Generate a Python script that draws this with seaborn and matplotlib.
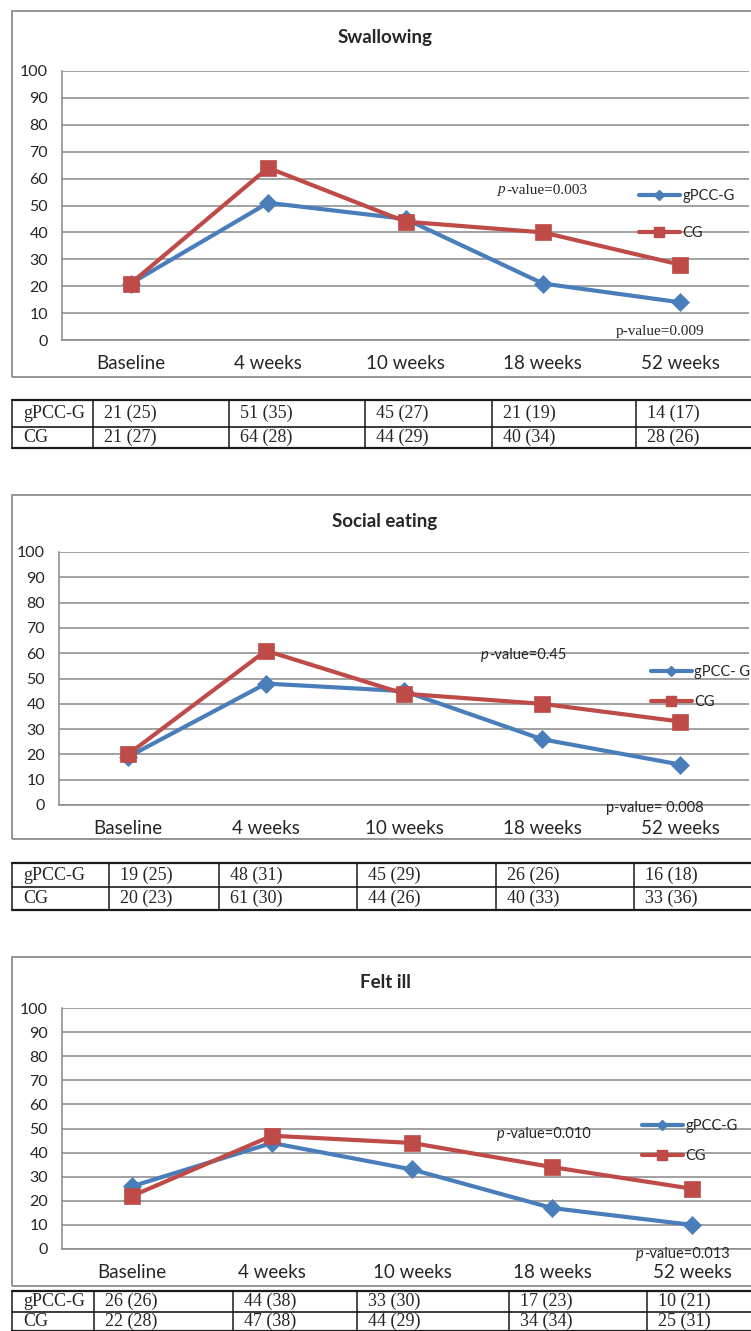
import matplotlib
matplotlib.use("Agg")
import matplotlib.pyplot as plt
import pandas as pd
import seaborn as sns
from matplotlib.patches import Rectangle
from matplotlib.lines import Line2D

# ---- data: mean (SD) per time point ----
timepoints = ["Baseline", "4 weeks", "10 weeks", "18 weeks", "52 weeks"]
group_names = ["gPCC-G", "CG"]

swallowing_gpcc_mean = [21, 51, 45, 21, 14]
swallowing_gpcc_sd = [25, 35, 27, 19, 17]
swallowing_cg_mean = [21, 64, 44, 40, 28]
swallowing_cg_sd = [27, 28, 29, 34, 26]

social_gpcc_mean = [19, 48, 45, 26, 16]
social_gpcc_sd = [25, 31, 29, 26, 18]
social_cg_mean = [20, 61, 44, 40, 33]
social_cg_sd = [23, 30, 26, 33, 36]

ill_gpcc_mean = [26, 44, 33, 17, 10]
ill_gpcc_sd = [26, 38, 30, 23, 21]
ill_cg_mean = [22, 47, 44, 34, 25]
ill_cg_sd = [28, 38, 29, 34, 31]

titles = ["Swallowing", "Social eating", "Felt ill"]
legend_labels = [["gPCC-G", "CG"], ["gPCC- G", "CG"], ["gPCC-G", "CG"]]
pvalue_upper = ["0.003", "0.45", "0.010"]
pvalue_lower = ["0.009", " 0.008", "0.013"]

# ---- styling ----
sns.set_style("white")
SANS = ["Lato", "Liberation Sans", "DejaVu Sans"]
SERIF = ["Liberation Serif", "DejaVu Serif"]
plt.rcParams["font.family"] = SANS
BLUE = "#4A7EBB"
RED = "#BE4B48"
GRID = "#878787"
colors = {"gPCC-G": BLUE, "CG": RED}

W, H = 751, 1331
fig = plt.figure(figsize=(W / 100, H / 100), dpi=100)


def fx(x):
    return x / W


def fy(y):
    return 1 - y / H


# per-panel layout in pixels
layouts = [
    dict(box=(12, 11, 377), axes=(62, 71, 749, 340), title_y=37,
         leg=(639, 196, 233), legsp=1.55, pa=(506, 190, True),
         pb=(616, 332, False), pfont=SERIF, psize=11, table=(400, 427, 448),
         cols=[12, 93, 229, 365, 492, 636]),
    dict(box=(12, 495, 839), axes=(59, 552, 749, 805), title_y=522,
         leg=(651, 672, 702), legsp=1.1, pa=(489, 655, True),
         pb=(606, 808, False), pfont=SANS, psize=10.5, table=(863, 887, 910),
         cols=[12, 109, 219, 357, 496, 634]),
    dict(box=(12, 957, 1286), axes=(62, 1008, 762, 1249), title_y=983,
         leg=(642, 1126, 1156), legsp=1.1, pa=(505, 1134, True),
         pb=(644, 1254, True), pfont=SANS, psize=10.5, table=(1291, 1312, 1331),
         cols=[12, 94, 233, 357, 509, 647]),
]

panels = [
    (swallowing_gpcc_mean, swallowing_gpcc_sd, swallowing_cg_mean, swallowing_cg_sd),
    (social_gpcc_mean, social_gpcc_sd, social_cg_mean, social_cg_sd),
    (ill_gpcc_mean, ill_gpcc_sd, ill_cg_mean, ill_cg_sd),
]


def ptext(x, y, value, italic_p, family, size):
    if italic_p:
        fig.text(fx(x), fy(y), "p", ha="right", va="center", style="italic",
                 family=family, fontsize=size)
        fig.text(fx(x), fy(y), "-value=" + value, ha="left", va="center",
                 family=family, fontsize=size)
    else:
        fig.text(fx(x), fy(y), "p-value=" + value, ha="left", va="center",
                 family=family, fontsize=size)


for i, (lay, (gm, gs, cm, cs)) in enumerate(zip(layouts, panels)):
    # outer chart frame
    bx, btop, bbot = lay["box"]
    fig.add_artist(Rectangle((fx(bx), fy(bbot)), 1.2, (bbot - btop) / H,
                             transform=fig.transFigure, fill=False,
                             edgecolor="#8C8C8C", lw=1.3))
    fig.text(fx(385), fy(lay["title_y"]), titles[i], ha="center", va="center",
             fontsize=13.5, fontweight="bold")

    l, t, r, b = lay["axes"]
    ax = fig.add_axes([fx(l), fy(b), (r - l) / W, (b - t) / H])
    ax.patch.set_alpha(0)

    df = pd.DataFrame({
        "pos": list(range(len(timepoints))) * 2,
        "score": gm + cm,
        "group": [group_names[0]] * len(gm) + [group_names[1]] * len(cm),
    })
    styles = {"gPCC-G": ("D", 9.5), "CG": ("s", 11.5)}
    for g in group_names:
        mk, ms = styles[g]
        sns.lineplot(data=df[df["group"] == g], x="pos", y="score",
                     color=colors[g], marker=mk, markersize=ms,
                     markeredgecolor=colors[g], markeredgewidth=0.5,
                     linewidth=3, errorbar=None, legend=False, ax=ax,
                     clip_on=False)

    ax.set_xlim(-0.5, len(timepoints) - 0.5)
    ax.set_ylim(0, 100)
    ax.set_yticks(range(0, 101, 10))
    ax.set_xticks(range(len(timepoints)))
    ax.set_xticklabels(timepoints)
    ax.set_xlabel("")
    ax.set_ylabel("")
    ax.yaxis.grid(True, color=GRID, lw=1.1)
    ax.set_axisbelow(True)
    for s in ["top", "right"]:
        ax.spines[s].set_visible(False)
    for s in ["left", "bottom"]:
        ax.spines[s].set_color(GRID)
        ax.spines[s].set_linewidth(1.1)
    ax.tick_params(axis="x", length=0, pad=11, labelsize=13.5)
    ax.tick_params(axis="y", length=4, width=1.1, color=GRID, pad=6,
                   labelsize=11.5)

    # legend
    lx, ly1, ly2 = lay["leg"]
    handles = [Line2D([], [], color=BLUE, lw=3, marker="D", ms=5),
               Line2D([], [], color=RED, lw=3, marker="s", ms=7)]
    ax.legend(handles, legend_labels[i], loc="center left",
              bbox_to_anchor=(fx(lx), fy((ly1 + ly2) / 2)),
              bbox_transform=fig.transFigure, frameon=False, fontsize=10.5,
              handlelength=2.8, handletextpad=0.15, labelspacing=lay["legsp"],
              borderpad=0, borderaxespad=0)

    # p-value annotations
    pax, pay, pai = lay["pa"]
    ptext(pax, pay, pvalue_upper[i], pai, lay["pfont"], lay["psize"])
    pbx, pby, pbi = lay["pb"]
    ptext(pbx, pby, pvalue_lower[i], pbi, lay["pfont"], lay["psize"])

    # summary table beneath the chart
    yt, ym, yb = lay["table"]
    cols = lay["cols"]
    for yy, lw in [(yt, 1.6), (ym, 1.2), (yb, 1.6)]:
        fig.add_artist(Line2D([fx(cols[0]), 1.2], [fy(yy), fy(yy)],
                              transform=fig.transFigure, color="#1A1A1A", lw=lw))
    for xx in cols:
        fig.add_artist(Line2D([fx(xx), fx(xx)], [fy(yt), fy(yb)],
                              transform=fig.transFigure, color="#1A1A1A", lw=1.1))
    rows = [(group_names[0], gm, gs), (group_names[1], cm, cs)]
    centers = [(yt + ym) / 2, (ym + yb) / 2]
    for (name, means, sds), yc in zip(rows, centers):
        fig.text(fx(cols[0] + 11), fy(yc), name, ha="left", va="center",
                 family=SERIF, fontsize=13)
        for j, (m, s) in enumerate(zip(means, sds)):
            fig.text(fx(cols[j + 1] + 11), fy(yc), f"{m} ({s})", ha="left",
                     va="center", family=SERIF, fontsize=13)

fig.savefig("out.png", dpi=100)
